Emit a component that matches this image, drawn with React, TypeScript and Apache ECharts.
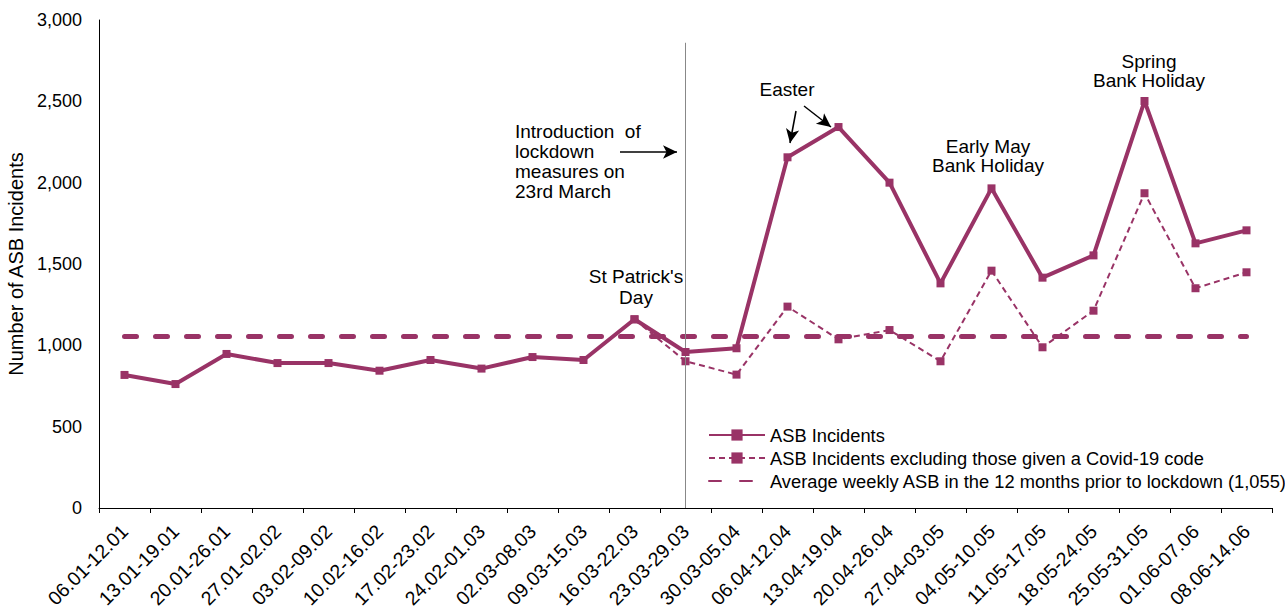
import React, { useEffect, useRef } from "react";
import * as echarts from "echarts";

const categories = [
  "06.01-12.01", "13.01-19.01", "20.01-26.01", "27.01-02.02", "03.02-09.02",
  "10.02-16.02", "17.02-23.02", "24.02-01.03", "02.03-08.03", "09.03-15.03",
  "16.03-22.03", "23.03-29.03", "30.03-05.04", "06.04-12.04", "13.04-19.04",
  "20.04-26.04", "27.04-03.05", "04.05-10.05", "11.05-17.05", "18.05-24.05",
  "25.05-31.05", "01.06-07.06", "08.06-14.06",
];

const asbIncidents = [
  818, 762, 947, 891, 891, 844, 910, 857, 928, 910,
  1160, 959, 982, 2156, 2342, 2000, 1381, 1965, 1416, 1553,
  2502, 1627, 1707,
];

const asbExclCovid = [
  null, null, null, null, null, null, null, null, null, null,
  1160, 902, 820, 1238, 1037, 1094, 902, 1459, 988, 1213,
  1935, 1351, 1449,
];

const averageValue = 1055;
const averageLine = categories.map(() => averageValue);

const lockdownWeek = "23.03-29.03";
const yTicks = { min: 0, max: 3000, interval: 500 };

const seriesNames = [
  "ASB Incidents",
  "ASB Incidents excluding those given a Covid-19 code",
  "Average weekly ASB in the 12 months prior to lockdown (1,055)",
];

const COLOR = "#993366";
const FONT = "'Liberation Sans', Arial, sans-serif";
const FS_ANN = 19;

export default function App() {
  const ref = useRef<HTMLDivElement>(null);

  useEffect(() => {
    if (!ref.current) return;
    const chart = echarts.init(ref.current, undefined, { renderer: "svg" });

    const textEl = (text: string, x: number, y: number, align: string, lh = 20) => ({
      type: "text",
      x,
      y,
      style: {
        text,
        fill: "#000",
        font: `${FS_ANN}px ${FONT}`,
        fontSize: FS_ANN,
        fontFamily: FONT,
        align,
        verticalAlign: "top",
        lineHeight: lh,
      },
      silent: true,
    });

    chart.setOption({
      animation: false,
      textStyle: { fontFamily: FONT },
      grid: {
        left: 99,
        right: 13,
        top: 20,
        bottom: 100,
        containLabel: false,
        outerBoundsMode: "none",
      },
      legend: {
        orient: "vertical",
        left: 703,
        top: 421,
        itemWidth: 56,
        itemHeight: 14,
        itemGap: 5,
        textStyle: { fontSize: 18.3, color: "#000", fontFamily: FONT },
        data: [
          { name: seriesNames[0] },
          { name: seriesNames[1] },
          { name: seriesNames[2], itemStyle: { opacity: 0 } },
        ],
      },
      xAxis: {
        type: "category",
        data: categories,
        boundaryGap: true,
        axisLine: { lineStyle: { color: "#000", width: 1 } },
        axisTick: { show: true, length: 5, lineStyle: { color: "#000" } },
        axisLabel: {
          rotate: 45,
          interval: 0,
          fontSize: 19.5,
          color: "#000",
          fontFamily: FONT,
          margin: 20,
        },
      },
      yAxis: {
        type: "value",
        min: yTicks.min,
        max: yTicks.max,
        interval: yTicks.interval,
        name: "Number of ASB Incidents",
        nameLocation: "middle",
        nameGap: 72,
        nameTextStyle: { fontSize: 20, color: "#000", fontFamily: FONT },
        axisLine: { show: true, lineStyle: { color: "#000", width: 1 } },
        axisTick: { show: false },
        splitLine: { show: false },
        axisLabel: {
          fontSize: 18,
          color: "#000",
          fontFamily: FONT,
          margin: 17,
          formatter: (v: number) => v.toLocaleString("en-GB"),
        },
      },
      series: [
        {
          name: seriesNames[0],
          type: "line",
          data: asbIncidents,
          symbol: "rect",
          symbolSize: 8,
          itemStyle: { color: COLOR },
          lineStyle: { color: COLOR, width: 4 },
          z: 5,
        },
        {
          name: seriesNames[1],
          type: "line",
          data: asbExclCovid,
          symbol: "rect",
          symbolSize: 8,
          itemStyle: { color: COLOR },
          lineStyle: { color: COLOR, width: 2, type: [6, 4] },
          z: 4,
        },
        {
          name: seriesNames[2],
          type: "line",
          data: averageLine,
          symbol: "none",
          itemStyle: { color: COLOR },
          lineStyle: { color: COLOR, width: 5, type: [12, 19], cap: "round" },
          z: 3,
          markLine: {
            silent: true,
            symbol: ["none", "none"],
            label: { show: false },
            lineStyle: { color: "#888", width: 1, type: "solid" },
            data: [
              [
                { coord: [lockdownWeek, 0] },
                { coord: [lockdownWeek, 2860] },
              ],
            ],
          },
        },
        {
          name: "arrows",
          type: "line",
          data: [],
          markLine: {
            silent: true,
            symbol: ["none", "arrow"],
            symbolSize: [10, 14],
            label: { show: false },
            lineStyle: { color: "#000", width: 1.5, type: "solid" },
            data: [
              [{ x: 620, y: 152 }, { x: 677, y: 152 }],
              [{ x: 796, y: 111 }, { x: 790, y: 143 }],
              [{ x: 804, y: 106 }, { x: 831, y: 127 }],
            ],
          },
        },
      ],
      graphic: [
        textEl("Introduction  of\nlockdown\nmeasures on\n23rd March", 515, 121, "left", 20),
        textEl("St Patrick's\nDay", 636, 266, "center", 21),
        textEl("Easter", 787, 79, "center", 20),
        textEl("Early May\nBank Holiday", 988, 137, "center", 19),
        textEl("Spring\nBank Holiday", 1149, 52, "center", 19),
      ],
    });

    return () => chart.dispose();
  }, []);

  return (
    <div
      ref={ref}
      style={{ position: "fixed", left: 0, top: 0, width: 1285, height: 608, background: "#fff" }}
    />
  );
}
